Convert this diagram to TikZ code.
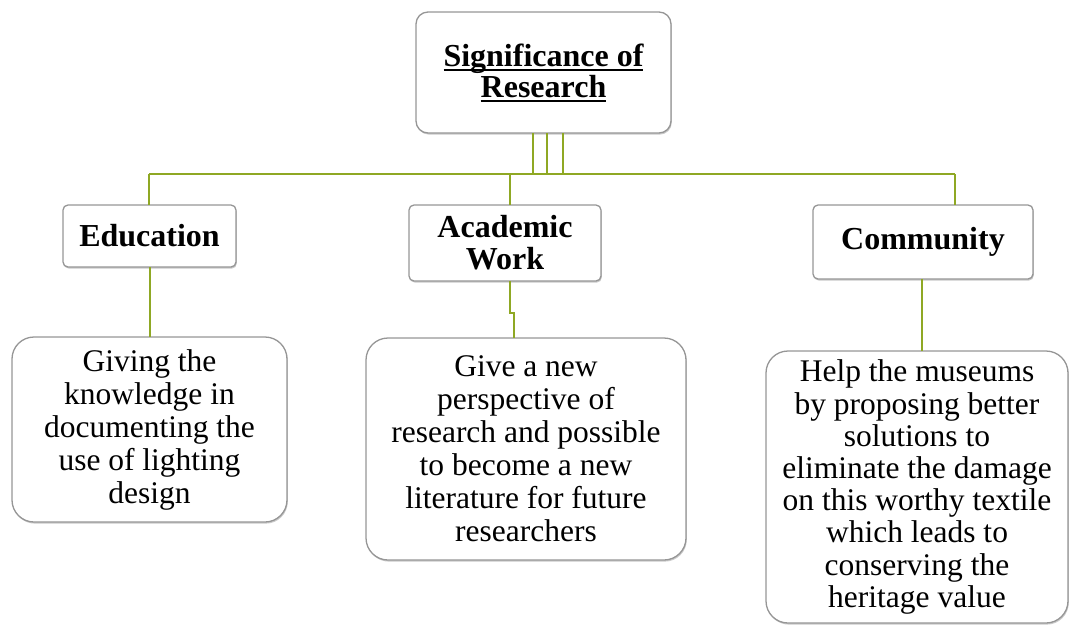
\documentclass[tikz,border=0pt]{standalone}
\usepackage{fontspec}
\setmainfont{Liberation Serif}
\usetikzlibrary{shadows}
\definecolor{linkgreen}{RGB}{143,168,36}
\definecolor{boxline}{RGB}{150,150,150}
% heavier underline for the headline
\newcommand\headul[1]{\setbox0\hbox{#1}\rlap{\rule[-4.5pt]{\wd0}{2pt}}\box0}
\tikzset{
  card/.style={draw=boxline, line width=1.3pt, fill=white, align=center,
    inner sep=0pt, outer sep=0pt,
    drop shadow={shadow xshift=0.8pt, shadow yshift=-1.6pt, opacity=0.35, fill=black!60}},
  headbox/.style={card, rounded corners=12pt, font=\fontsize{32}{31}\selectfont\bfseries},
  catbox/.style={card, rounded corners=5pt, font=\fontsize{32}{32}\selectfont\bfseries},
  leafbox/.style={card, rounded corners=22pt, font=\fontsize{31.5}{33}\selectfont},
  leaftight/.style={leafbox, font=\fontsize{31.5}{32.2}\selectfont},
  link/.style={draw=linkgreen, line width=2pt}
}
\begin{document}
\begin{tikzpicture}[x=1pt,y=-1pt]
\useasboundingbox (0,0) rectangle (1074,625);

% headline and the three areas
\node[headbox, minimum width=255pt, minimum height=121pt] (top) at (543.5,72.5)
  {\headul{Significance of}\\\headul{Research}};
\node[catbox, minimum width=173pt, minimum height=62pt] (edu) at (149.5,236) {Education};
\node[catbox, minimum width=192pt, minimum height=76pt] (acad) at (505,243) {Academic\\Work};
\node[catbox, minimum width=220pt, minimum height=74pt] (comm) at (923,242) {Community};

% detail cards
\node[leafbox, minimum width=275pt, minimum height=185pt] (leafA) at (149.5,429.5)
  {Giving the\\knowledge in\\documenting the\\use of lighting\\design};
\node[leafbox, minimum width=320pt, minimum height=222pt] (leafB) at (526,449)
  {Give a new\\perspective of\\research and possible\\to become a new\\literature for future\\researchers};
\node[leaftight, minimum width=302pt, minimum height=272pt] (leafC) at (917,487)
  {Help the museums\\by proposing better\\solutions to\\eliminate the damage\\on this worthy textile\\which leads to\\conserving the\\heritage value};

% bus line under the headline
\coordinate (b1) at (533,174);
\coordinate (b2) at (547,174);
\coordinate (b3) at (563,174);
\coordinate (bL) at (149,174);
\coordinate (bM) at (510,174);
\coordinate (bR) at (955,174);
\coordinate (jA) at (510,313);
\coordinate (jB) at (514,313);
\coordinate (dC) at (922,300);

\path[link] (top.south -| b1) -- (b1);
\path[link] (top.south -| b2) -- (b2);
\path[link] (top.south -| b3) -- (b3);
\path[link] (bL) -- (bR);
\path[link] (bL) -- (bL |- edu.north);
\path[link] (bM) -- (bM |- acad.north);
\path[link] (bR) -- (bR |- comm.north);

% drops to the detail cards
\path[link] (edu.south) -- (leafA.north -| edu.south);
\path[link] (acad.south -| jA) -- (jA) -- (jB) -- (jB |- leafB.north);
\path[link] (comm.south -| dC) -- (dC |- leafC.north);
\end{tikzpicture}
\end{document}
